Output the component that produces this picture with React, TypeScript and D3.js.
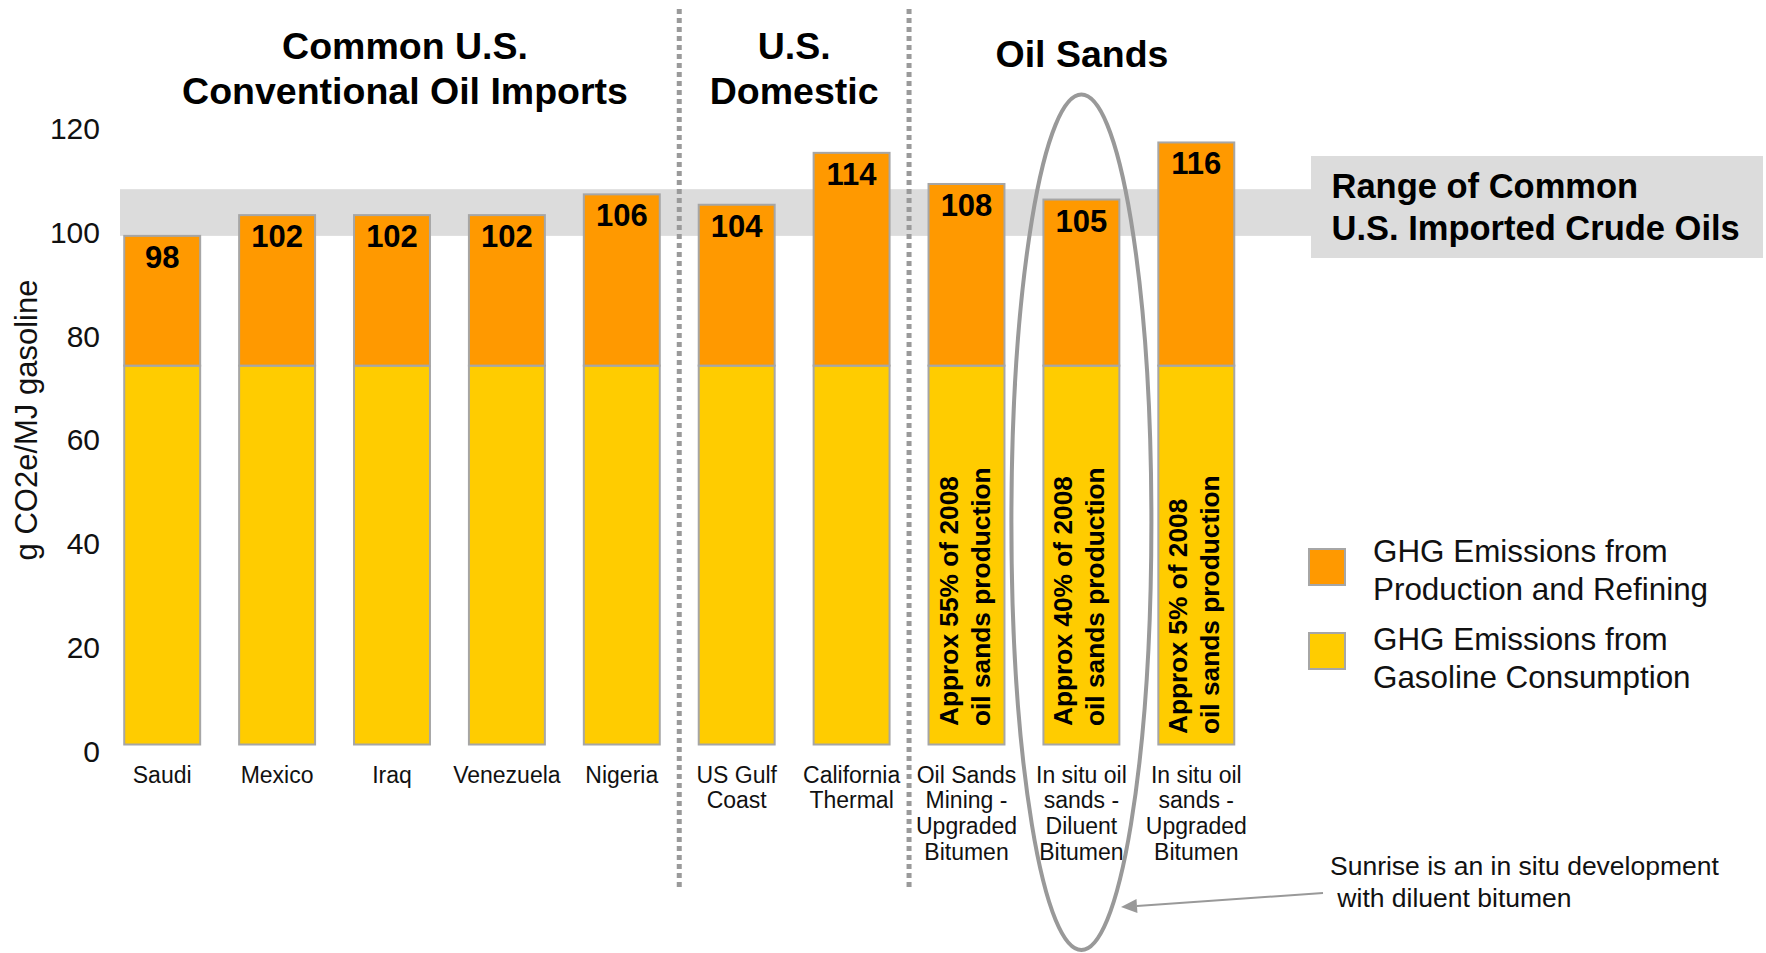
import React from "react";
import * as d3 from "d3";

const categories: string[][] = [
  ["Saudi"],
  ["Mexico"],
  ["Iraq"],
  ["Venezuela"],
  ["Nigeria"],
  ["US Gulf", "Coast"],
  ["California", "Thermal"],
  ["Oil Sands", "Mining -", "Upgraded", "Bitumen"],
  ["In situ oil", "sands -", "Diluent", "Bitumen"],
  ["In situ oil", "sands -", "Upgraded", "Bitumen"],
];
const totals = [98, 102, 102, 102, 106, 104, 114, 108, 105, 116];
const consumption = [73, 73, 73, 73, 73, 73, 73, 73, 73, 73];
const yTicks = [0, 20, 40, 60, 80, 100, 120];
const rangeBand = [98, 107];
const rangeLabel = ["Range of Common", "U.S. Imported Crude Oils"];
const groupTitles = [
  { lines: ["Common U.S.", "Conventional Oil Imports"], from: 0, to: 4 },
  { lines: ["U.S.", "Domestic"], from: 5, to: 6 },
  { lines: ["Oil Sands"], from: 7, to: 9 },
];
const barNotes: { index: number; lines: string[] }[] = [
  { index: 7, lines: ["Approx 55% of 2008", "oil sands production"] },
  { index: 8, lines: ["Approx 40% of 2008", "oil sands production"] },
  { index: 9, lines: ["Approx 5% of 2008", "oil sands production"] },
];
const legendItems = [
  { lines: ["GHG Emissions from", "Production and Refining"], color: "#FF9900" },
  { lines: ["GHG Emissions from", "Gasoline Consumption"], color: "#FFCC00" },
];
const yAxisTitle = "g CO2e/MJ gasoline";
const annotation = ["Sunrise is an in situ development", " with diluent bitumen"];
const highlightIndex = 8;

const ORANGE = "#FF9900";
const YELLOW = "#FFCC00";
const BAR_STROKE = "#A6A6A6";
const BAND = "#DCDCDC";
const GRAYLINE = "#9A9A9A";
const FONT = "'Liberation Sans', Arial, Helvetica, sans-serif";

export default function App() {
  const W = 1766;
  const H = 953;
  const x = d3
    .scaleBand<number>()
    .domain(d3.range(categories.length))
    .range([104.75, 1253.75])
    .paddingInner(0.339)
    .paddingOuter(0.1695);
  const y = d3.scaleLinear().domain([0, 120]).range([744.5, 121.7]);
  const bw = x.bandwidth();
  const cx = (i: number) => (x(i) as number) + bw / 2;

  const divider = (a: number) => (cx(a) + cx(a + 1)) / 2;
  const dividers = [divider(4), divider(6)];

  const ellCx = cx(highlightIndex);
  const ellTop = 94.6;
  const ellBot = 950;
  const ellRx = 70;

  // arrow
  const arrowStart: [number, number] = [1323, 893];
  const arrowEnd: [number, number] = [1121, 907];
  const ang = Math.atan2(arrowEnd[1] - arrowStart[1], arrowEnd[0] - arrowStart[0]);
  const ah = 16;
  const aw = 7;
  const headBase: [number, number] = [
    arrowEnd[0] - ah * Math.cos(ang),
    arrowEnd[1] - ah * Math.sin(ang),
  ];
  const headPts = [
    arrowEnd,
    [headBase[0] + aw * Math.sin(ang), headBase[1] - aw * Math.cos(ang)],
    [headBase[0] - aw * Math.sin(ang), headBase[1] + aw * Math.cos(ang)],
  ]
    .map((p) => p.join(","))
    .join(" ");

  const titleCenters = [405, (dividers[0] + dividers[1]) / 2, 1082];

  return (
    <svg
      width={W}
      height={H}
      viewBox={`0 0 ${W} ${H}`}
      style={{ position: "absolute", left: 0, top: 0, background: "#fff" }}
      fontFamily={FONT}
    >
      {/* range band */}
      <rect
        x={120}
        y={y(rangeBand[1])}
        width={1311 - 120}
        height={y(rangeBand[0]) - y(rangeBand[1])}
        fill={BAND}
      />
      <rect x={1311} y={156} width={1763 - 1311} height={102} fill={BAND} />
      {rangeLabel.map((t, i) => (
        <text key={t} x={1331.5} y={198 + i * 42} fontSize={34.5} fontWeight="bold" fill="#000">
          {t}
        </text>
      ))}

      {/* dividers */}
      {dividers.map((dx, i) => (
        <line
          key={i}
          x1={dx}
          x2={dx}
          y1={9}
          y2={890}
          stroke={GRAYLINE}
          strokeWidth={5}
          strokeDasharray="5 4"
        />
      ))}

      {/* group titles */}
      {groupTitles.map((g, gi) =>
        g.lines.map((t, li) => (
          <text
            key={gi + "-" + li}
            x={titleCenters[gi]}
            y={g.lines.length === 1 ? 66.5 : 58.5 + li * 45}
            textAnchor="middle"
            fontSize={37.5}
            fontWeight="bold"
            fill="#000"
          >
            {t}
          </text>
        ))
      )}

      {/* y axis */}
      {yTicks.map((t) => (
        <text key={t} x={100} y={y(t) + 17.2} textAnchor="end" fontSize={30} fill="#111">
          {t}
        </text>
      ))}
      <text
        transform={`translate(37,420) rotate(-90)`}
        textAnchor="middle"
        fontSize={31}
        fill="#111"
      >
        {yAxisTitle}
      </text>

      {/* bars */}
      {totals.map((tot, i) => {
        const base = consumption[i];
        return (
          <g key={i}>
            <rect
              x={x(i)}
              y={y(base)}
              width={bw}
              height={y(0) - y(base)}
              fill={YELLOW}
              stroke={BAR_STROKE}
              strokeWidth={2}
            />
            <rect
              x={x(i)}
              y={y(tot)}
              width={bw}
              height={y(base) - y(tot)}
              fill={ORANGE}
              stroke={BAR_STROKE}
              strokeWidth={2}
            />
            <text
              x={cx(i)}
              y={y(tot) + 32}
              textAnchor="middle"
              fontSize={31}
              fontWeight="bold"
              fill="#000"
            >
              {tot}
            </text>
            {categories[i].map((l, li) => (
              <text
                key={li}
                x={cx(i)}
                y={782.5 + li * 25.9}
                textAnchor="middle"
                fontSize={23}
                fill="#111"
              >
                {l}
              </text>
            ))}
          </g>
        );
      })}

      {/* notes inside bars */}
      {barNotes.map((n) => {
        const bottom = n.index === 9 ? 734 : 726;
        return n.lines.map((l, li) => (
          <text
            key={n.index + "-" + li}
            transform={`translate(${cx(n.index) - 9 + li * 32},${bottom}) rotate(-90)`}
            fontSize={26.3}
            fontWeight="bold"
            fill="#000"
          >
            {l}
          </text>
        ));
      })}

      {/* highlight ellipse */}
      <ellipse
        cx={ellCx}
        cy={(ellTop + ellBot) / 2}
        rx={ellRx}
        ry={(ellBot - ellTop) / 2}
        fill="none"
        stroke="#999"
        strokeWidth={4}
      />

      {/* arrow */}
      <line
        x1={arrowStart[0]}
        y1={arrowStart[1]}
        x2={headBase[0]}
        y2={headBase[1]}
        stroke="#999"
        strokeWidth={2}
      />
      <polygon points={headPts} fill="#999" />
      {annotation.map((t, i) => (
        <text
          key={i}
          x={1330}
          y={875 + i * 32}
          fontSize={26.5}
          fill="#111"
          style={{ whiteSpace: "pre" }}
        >
          {t}
        </text>
      ))}

      {/* legend */}
      {legendItems.map((it, i) => (
        <g key={i}>
          <rect
            x={1309}
            y={549 + i * 84}
            width={36}
            height={36}
            fill={it.color}
            stroke={BAR_STROKE}
            strokeWidth={2}
          />
          {it.lines.map((l, li) => (
            <text key={li} x={1373} y={562 + i * 88 + li * 37.5} fontSize={31.4} fill="#111">
              {l}
            </text>
          ))}
        </g>
      ))}
    </svg>
  );
}
